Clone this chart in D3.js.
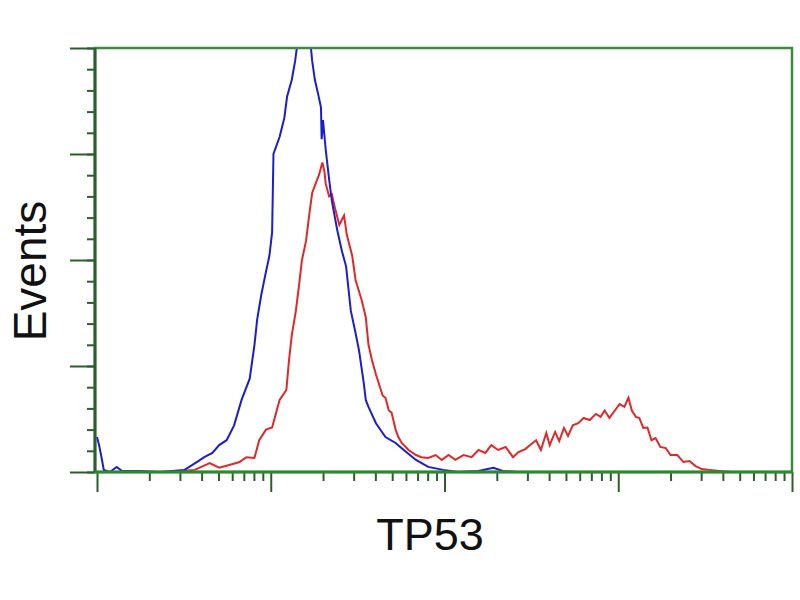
<!DOCTYPE html>
<html>
<head>
<meta charset="utf-8">
<script src="https://cdn.jsdelivr.net/npm/d3@7"></script>
<style>
  html, body { margin: 0; padding: 0; background: #ffffff; }
  svg { display: block; }
</style>
</head>
<body>
<svg id="chart" width="800" height="600"></svg>
<script>
// Histogram data: instrument channel (256 channels per decade, 4 decades) and event counts
const blueChannels = [0,3,6,10,19,29,37,63,92,129,147,158,170,180,191,202,213,225,232,236,242,248,254,258,260,269,276,280,287,292,296,305,314,317,321,326,330,331,333,337,342,346,354,361,367,374,380,386,393,396,400,411,425,440,452,470,488,510,532,562,584,598,620];
const blueCounts   = [16.5,12.7,8,1,0,2.4,0.5,0.5,0,1,4.7,7,9,12.7,15,22,34,44,60,72,83.5,93,102,113,150,158,167,177,185,194,204,213,204,194,185,178,172,157,166,152,138,128,114,104,97,76,67,57.5,42,34,30.7,23,16.5,13.7,10.4,5.7,2.4,1,0,0.5,2,0.5,0];

const redChannels = [122,144,166,180,195,210,220,232,239,249,258,269,279,283,287,293,298,302,308,313,317,324,327,332,335,337,342,346,351,357,364,368,376,381,390,396,400,405,411,415,421,425,430,434,440,444,449,459,470,478,488,499,508,518,528,540,552,562,572,581,591,602,613,621,631,640,647,654,662,667,675,681,688,694,701,709,717,726,735,742,748,755,763,770,777,783,788,794,799,805,811,817,823,830,838,845,855,864,873,882,891,902,917,936];
const redCounts   = [0.5,1,4.2,2,3.3,4.7,7,6.6,15,20,21,34,38.7,53,64.6,76,89,100,109,122,131.6,137.7,140,146,142,136,130,131,124,116.5,121,112,102,90.6,81,73,60,53,46,42,36,35,29,28,20,16.5,13.7,10.4,8,7,6.6,8,5.7,8,5.7,8,7,10.4,9,12.7,10.4,11.8,7,9.4,10.8,13.2,15,10.4,18.4,12.7,18.9,14.6,20.8,17,22,23,25.5,24.5,27.4,26,29,25.5,29,32,30.7,35,29,26,25.5,20.8,21,15,16,11.8,11.3,8,8,4.7,5.2,2.8,1.4,1,0.5,0];

const decadeChannels = [0, 256, 512, 768, 1024];
const yMajorTicks = [0, 50, 100, 150, 200];
const xLabel = "TP53";
const yLabel = "Events";

const svg = d3.select("#chart");
const pLeft = 95, pRight = 792, pTop = 48, pBottom = 472;

const x = d3.scaleLinear().domain([0, 1024]).range([97, 792]);
const y = d3.scaleLinear().domain([0, 200]).range([pBottom, pTop]);

svg.append("rect").attr("width", 800).attr("height", 600).attr("fill", "#ffffff");

const axisColor = "#2a5e2a";
const frameColor = "#3d8a3d";

// minor x ticks (log spacing within each decade)
const minorX = [];
for (let k = 0; k < 4; k++) for (let m = 2; m <= 9; m++) minorX.push(256 * (k + Math.log10(m)));

function styleAxis(g) {
  g.select(".domain").remove();
  g.selectAll("line").attr("stroke", axisColor).attr("stroke-width", 2);
  g.selectAll("text").remove();
}

svg.append("g").attr("transform", `translate(0,${pBottom})`)
  .call(d3.axisBottom(x).tickValues(minorX).tickSize(9).tickFormat(""))
  .call(styleAxis);
svg.append("g").attr("transform", `translate(0,${pBottom})`)
  .call(d3.axisBottom(x).tickValues(decadeChannels).tickSize(20).tickFormat(""))
  .call(styleAxis);

svg.append("g").attr("transform", `translate(${pLeft},0)`)
  .call(d3.axisLeft(y).tickValues(d3.range(0, 201, 10)).tickSize(8).tickFormat(""))
  .call(styleAxis);
svg.append("g").attr("transform", `translate(${pLeft},0)`)
  .call(d3.axisLeft(y).tickValues(yMajorTicks).tickSize(25).tickFormat(""))
  .call(styleAxis);

// clip
svg.append("clipPath").attr("id", "plotclip")
  .append("rect").attr("x", pLeft).attr("y", pTop).attr("width", pRight - pLeft).attr("height", pBottom - pTop);

const line = d3.line().x(d => x(d[0])).y(d => y(d[1]));

const plot = svg.append("g").attr("clip-path", "url(#plotclip)");
plot.append("path")
  .datum(redChannels.map((c, i) => [c, redCounts[i]]))
  .attr("d", line).attr("fill", "none").attr("stroke", "#e02828").attr("stroke-width", 2);
plot.append("path")
  .datum(blueChannels.map((c, i) => [c, blueCounts[i]]))
  .attr("d", line).attr("fill", "none").attr("stroke", "#1c1cd0").attr("stroke-width", 2);

// frame
svg.append("rect").attr("x", pLeft).attr("y", pTop).attr("width", pRight - pLeft).attr("height", pBottom - pTop)
  .attr("fill", "none").attr("stroke", frameColor).attr("stroke-width", 2.5);
svg.append("line").attr("x1", pLeft).attr("x2", pLeft).attr("y1", pTop).attr("y2", pBottom)
  .attr("stroke", axisColor).attr("stroke-width", 3);
svg.append("line").attr("x1", pLeft).attr("x2", pRight).attr("y1", pBottom).attr("y2", pBottom)
  .attr("stroke", "#2f8a2f").attr("stroke-width", 3);

// labels
svg.append("text").attr("x", 430).attr("y", 550).attr("text-anchor", "middle")
  .attr("font-family", "Liberation Sans, Arial, sans-serif").attr("font-size", 45).attr("fill", "#111")
  .text(xLabel);
svg.append("text").attr("transform", "translate(46,271) rotate(-90)").attr("text-anchor", "middle")
  .attr("font-family", "Liberation Sans, Arial, sans-serif").attr("font-size", 46).attr("fill", "#111")
  .text(yLabel);
</script>
</body>
</html>
